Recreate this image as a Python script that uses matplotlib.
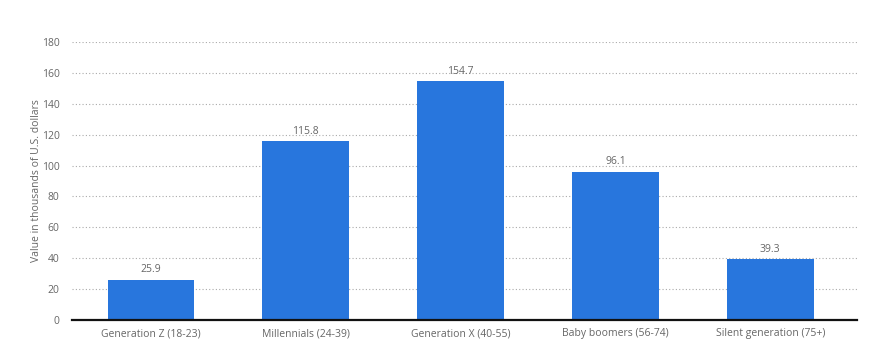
import matplotlib.pyplot as plt
import numpy as np

plt.rcParams['font.family'] = ['Open Sans', 'DejaVu Sans']

categories = ['Generation Z (18-23)', 'Millennials (24-39)', 'Generation X (40-55)',
              'Baby boomers (56-74)', 'Silent generation (75+)']
values = [25.9, 115.8, 154.7, 96.1, 39.3]
yticks = [0, 20, 40, 60, 80, 100, 120, 140, 160, 180]

fig = plt.figure(figsize=(8.73, 3.48), dpi=100)
ax = fig.add_axes([0.0825, 0.0805, 0.8995, 0.7985])

x = np.arange(len(categories))
ax.bar(x, values, width=0.56, color='#2876dd', zorder=3)
for xi, v in zip(x, values):
    ax.text(xi, v + 3, f'{v}', ha='center', va='bottom', fontsize=7.5, color='#666666')

ax.set_xlim(-0.51, 4.562)
ax.set_ylim(0, 180)
ax.set_yticks(yticks)
ax.set_xticks(x)
ax.set_xticklabels(categories)
ax.tick_params(axis='both', length=0, labelsize=7.5, labelcolor='#666666')
ax.tick_params(axis='y', pad=9)
ax.tick_params(axis='x', pad=6)
ax.yaxis.grid(True, linestyle=(0, (1, 2)), color='#aaaaaa', linewidth=0.8, zorder=0)
for s in ['top', 'right', 'left']:
    ax.spines[s].set_visible(False)
ax.spines['bottom'].set_color('#111111')
ax.spines['bottom'].set_linewidth(1.6)
ax.spines['bottom'].set_zorder(4)
ax.set_ylabel('Value in thousands of U.S. dollars', fontsize=7.5, color='#666666', labelpad=0)

fig.savefig('out.png', dpi=100)
